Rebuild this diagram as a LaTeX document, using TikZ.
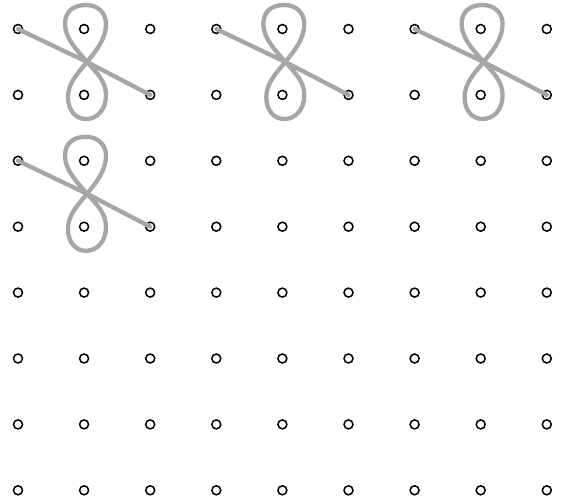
\documentclass[tikz,border=0pt]{standalone}
\begin{document}
\begin{tikzpicture}[x=1pt,y=-1pt,
  dot/.style={circle,draw=black,line width=1.5pt,minimum size=9pt,inner sep=0pt},
  eight/.style={draw=black!35,line width=4.3pt,line cap=round,line join=round}]
\useasboundingbox (0,0) rectangle (563,502);
\foreach \i in {0,...,8}
  \foreach \j in {0,...,7}
    \node[dot] (d\i-\j) at ({18+66.1*\i},{29+65.9*\j}) {};
\foreach \i/\j [evaluate=\i as \k using int(\i+2), evaluate=\j as \l using int(\j+1)] in {0/0,3/0,6/0,0/2}{
  \begin{scope}[shift={(d\i-\j)}]
    \coordinate (x\i\j) at (69,33);
    \draw[eight] (d\i-\j.center) -- (x\i\j)
      .. controls (60,22) and (47,10) .. (47,-5)
      .. controls (47,-18) and (56,-24) .. (68,-24)
      .. controls (80,-24) and (88,-16) .. (88,-5)
      .. controls (88,10) and (78,22) .. (x\i\j)
      .. controls (60,44) and (50,54) .. (50,68)
      .. controls (50,82) and (58,90) .. (68,90)
      .. controls (79,90) and (88,81) .. (88,66)
      .. controls (88,52) and (78,43) .. (x\i\j)
      -- (d\k-\l.center);
  \end{scope}
}
\end{tikzpicture}
\end{document}
